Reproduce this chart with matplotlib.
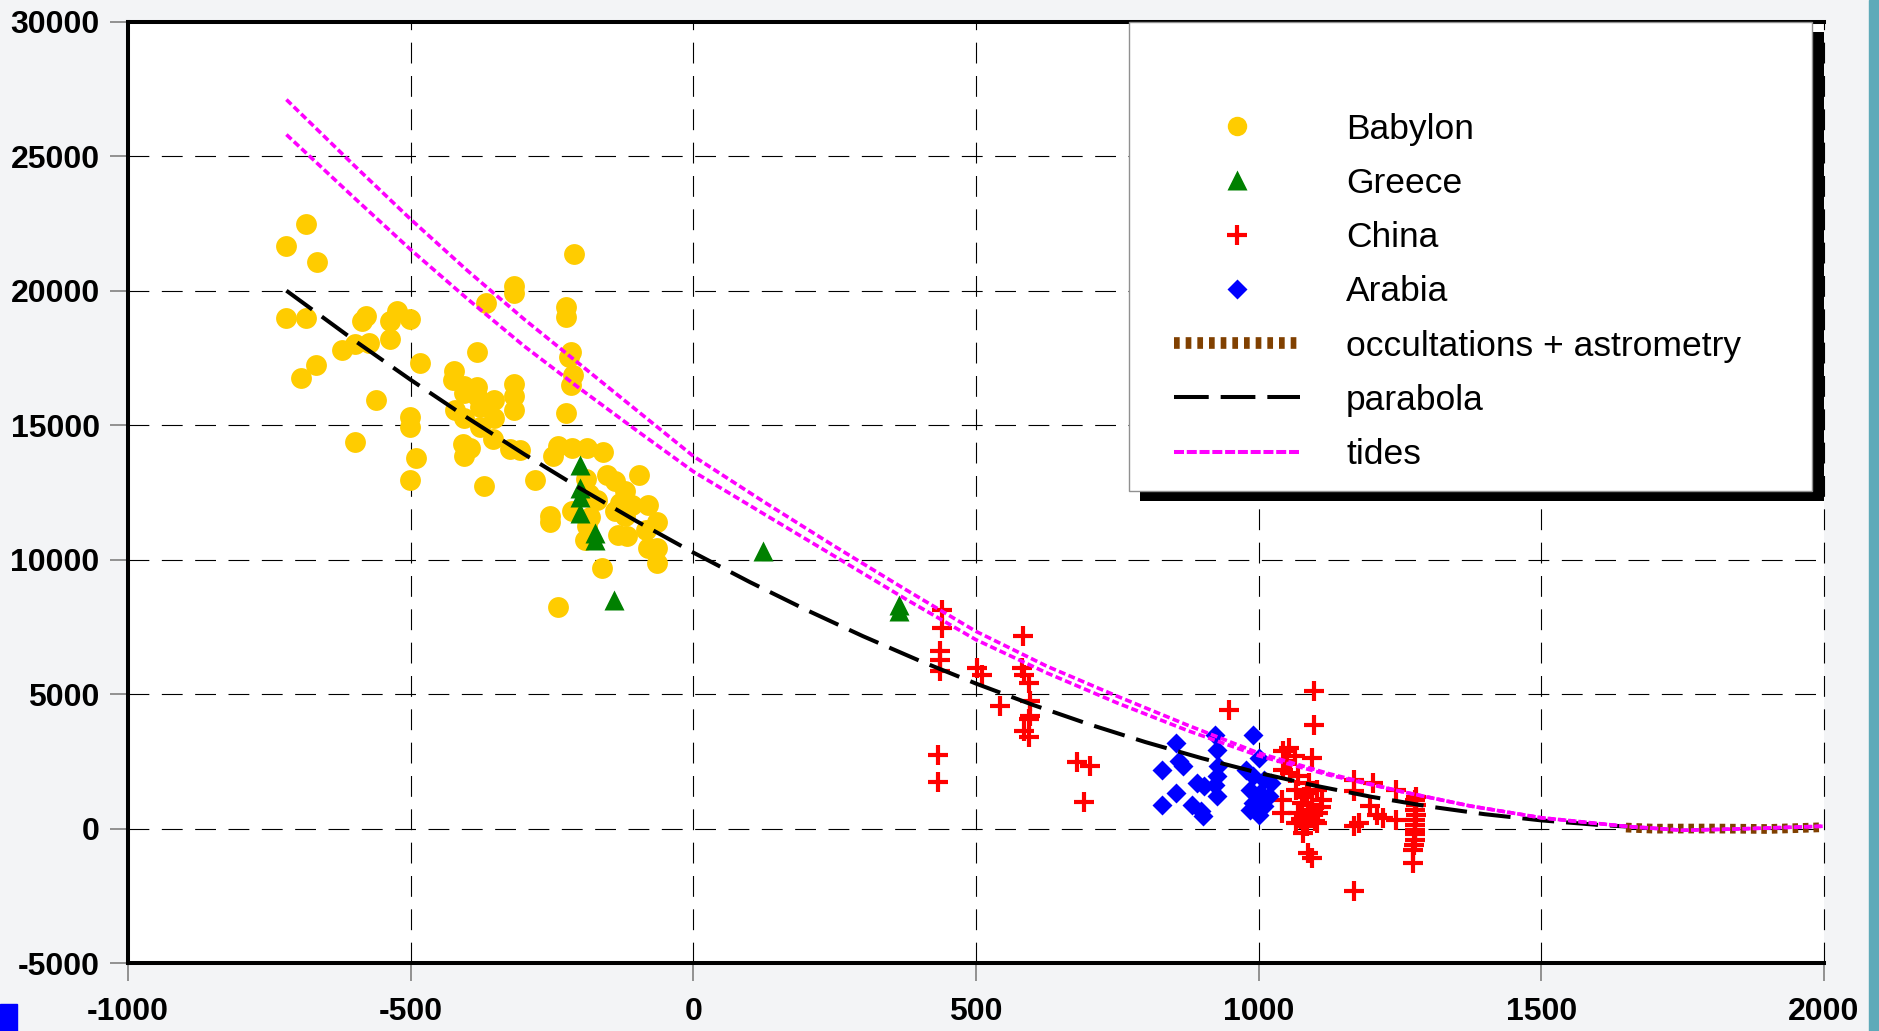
import numpy as np
import matplotlib.pyplot as plt
from matplotlib.lines import Line2D
from matplotlib.patches import Rectangle

plt.rcParams['font.family'] = ['Liberation Sans', 'DejaVu Sans']
plt.rcParams['lines.scale_dashes'] = False
plt.rcParams['axes.unicode_minus'] = False

### Data ###

babylon_x = [-721, -686, -666, -720, -685, -587, -579, -622, -599, -573, -524, -537, -502, -537,
             -668, -695, -562, -483, -502, -502, -599, -491, -502, -423, -425, -405, -382, -383,
             -378, -405, -352, -382, -421, -405, -378, -352, -407, -396, -405, -354, -325, -307,
             -371, -367, -317, -317, -317, -317, -317, -212, -226, -226, -216, -220, -213, -216,
             -226, -281, -248, -239, -215, -189, -159, -254, -254, -215, -189, -192, -171, -153,
             -139, -121, -130, -109, -139, -121, -97, -80, -83, -65, -80, -65, -65, -133, -118,
             -162, -239, -190, -185, -183]
babylon_y = [21650, 22480, 21050, 19000, 19000, 18860, 19060, 17800, 18000, 18070, 19260, 18860,
             18950, 18200, 17240, 16740, 15940, 17300, 15310, 14950, 14380, 13780, 12980, 17000,
             16670, 16470, 16410, 16080, 15680, 16210, 15940, 17730, 15550, 15280, 14950, 15280,
             14290, 14150, 13850, 14480, 14130, 14090, 12760, 19530, 20190, 19900, 16540, 16100,
             15550, 21360, 19390, 19020, 17730, 17540, 16870, 16500, 15450, 12950, 13840, 14210,
             14150, 14150, 14020, 11610, 11420, 11800, 11240, 10740, 12230, 13160, 12910, 12540,
             12100, 12040, 11800, 11610, 13160, 12040, 11110, 11420, 10430, 10430, 9880, 10930,
             10870, 9690, 8240, 13000, 12450, 11600]

greece_x = [-201, -201, -201, -201, -174, -174, -141, 124, 363, 363]
greece_y = [13530, 12660, 12350, 11730, 10990, 10740, 8510, 10310, 8330, 8080]

china_x = [440, 440, 437, 437, 437, 433, 433, 502, 510, 543, 584, 582, 585, 594, 595, 595, 594,
           585, 594, 679, 702, 691, 947,
           1098, 1098, 1044, 1053, 1064, 1050, 1094, 1044, 1056, 1070, 1067, 1085, 1103, 1076,
           1094, 1112, 1070, 1088, 1106, 1067, 1085, 1103, 1079, 1041, 1041, 1088, 1094, 1168,
           1168, 1203, 1244, 1168, 1177, 1197, 1209, 1221, 1244, 1168, 1277, 1276, 1276, 1277,
           1276, 1274, 1274, 1080, 1095, 1100, 1075, 1090, 1110, 1279, 1278, 1277, 1276, 1275,
           1278]
china_y = [8120, 7460, 6600, 6290, 5850, 2760, 1740, 5980, 5730, 4580, 7180, 5980, 5730, 5440,
           4740, 4180, 4080, 3620, 3410, 2480, 2320, 1000, 4430,
           5110, 3870, 2880, 3000, 2700, 2510, 2630, 2200, 2080, 1950, 1460, 1330, 1460, 960,
           900, 1090, 590, 470, 590, 220, 95, 220, -150, 1090, 590, -900, -1080, 1830,
           1400, 1700, 1460, 95, 220, 840, 530, 400, 340, -2320, 1090, 710, 340, -30,
           -400, -770, -1270, 1200, 700, 300, 350, 1700, 800, 900, 500, 150, -200, -600,
           1200]

arabia_x = [854, 860, 867, 829, 854, 829, 891, 904, 882, 898, 901, 923, 926, 929, 926, 923, 926,
            990, 1000, 978, 991, 1009, 1022, 985, 1003, 1019, 991, 1009, 985, 1000]
arabia_y = [3190, 2510, 2320, 2200, 1330, 900, 1700, 1580, 900, 650, 470, 3500, 2940, 2320, 1950,
            1640, 1210, 3500, 2630, 2200, 1950, 1830, 1700, 1460, 1330, 1210, 960, 840, 710, 530]

occult_x = [1650, 1700, 1750, 1800, 1850, 1900, 1950, 2000]
occult_y = [50, 9, 13, 14, 7, -3, 29, 64]

parabola_x = [-720, -600, -500, -400, -300, -200, -100, 0, 100, 200, 300, 400, 500, 600, 700,
              800, 900, 1000, 1100, 1200, 1300, 1400, 1500, 1600, 1650]
parabola_y = [20000, 18155, 16685, 15278, 13933, 12649, 11428, 10268, 9171, 8136, 7162, 6251,
              5401, 4614, 3889, 3225, 2624, 2084, 1607, 1192, 838, 547, 317, 150, 90]

tides_x = [-720, -600, -500, -400, -300, -200, -100, 0, 125, 250, 375, 500, 625, 750, 875, 1000,
           1125, 1250, 1375, 1500, 1650, 1750, 1850, 2000]
tides_hi = [27100, 24650, 22650, 20750, 18950, 17250, 15550, 13850, 12150, 10500, 8900, 7340,
            6050, 4930, 3850, 2820, 2050, 1400, 850, 415, 95, -50, 0, 100]
tides_lo = [25800, 23450, 21520, 19700, 17950, 16350, 14800, 13280, 11700, 10130, 8550, 7030,
            5800, 4680, 3650, 2720, 2000, 1400, 850, 415, 95, -50, 0, 100]

labels = ["Babylon", "Greece", "China", "Arabia", "occultations + astrometry", "parabola", "tides"]

### Plot ###

fig = plt.figure(figsize=(18.79, 10.31), dpi=100, facecolor='#f3f4f6')
fig.patches.append(Rectangle((0.9947, 0), 0.0053, 1, transform=fig.transFigure,
                             color='#5eaab9', zorder=0))
fig.patches.append(Rectangle((0, 0), 0.009, 0.026, transform=fig.transFigure,
                             color='#0000ff', zorder=0))

ax = fig.add_axes([0.0682, 0.0655, 0.9024, 0.9136])
ax.set_facecolor('white')

ax.plot(babylon_x, babylon_y, ls='none', marker='o', ms=15, color='#ffcc00', mec='none', zorder=2)
ax.plot(greece_x, greece_y, ls='none', marker='^', ms=14.5, color='#008000', mec='none', zorder=2.1)
ax.plot(china_x, china_y, ls='none', marker='+', ms=15, mew=3.0, color='#ff0000', zorder=2.2)
ax.plot(arabia_x, arabia_y, ls='none', marker='D', ms=10.5, color='#0000ff', mec='none', zorder=2.3)

ax.plot(occult_x, occult_y, color='#804000', lw=7, ls=(0, (4, 3.5)), zorder=3)
ax.plot(parabola_x, parabola_y, color='black', lw=2.9, ls=(0, (23, 8.6)), zorder=3.1)
ax.plot(tides_x, tides_hi, color='#ff00ff', lw=2.6, ls=(0, (5, 2.4)), zorder=3.2)
ax.plot(tides_x, tides_lo, color='#ff00ff', lw=2.6, ls=(0, (5, 2.4)), zorder=3.2)

ax.set_xlim(-1000, 2000)
ax.set_ylim(-5000, 30000)
ax.set_xticks(np.arange(-1000, 2001, 500))
ax.set_yticks(np.arange(-5000, 30001, 5000))
ax.grid(True, color='black', lw=0.8, ls=(0, (15, 9)))
ax.set_axisbelow(True)
for gl in ax.xaxis.get_gridlines():
    gl.set_clip_on(False)

for side in ['left', 'bottom', 'top']:
    ax.spines[side].set_linewidth(2.9)
    ax.spines[side].set_color('black')
ax.spines['right'].set_visible(False)

ax.tick_params(axis='both', direction='out', length=13, width=1.2, color='#808080',
               labelsize=23)
ax.tick_params(axis='x', pad=11)
ax.tick_params(axis='y', pad=7.5)
for lab in ax.get_xticklabels() + ax.get_yticklabels():
    lab.set_fontweight('bold')

# legend box with a hard black shadow
ax.add_patch(Rectangle((0.5965, 0.4914), 0.4035, 0.498, transform=ax.transAxes,
                       facecolor='black', edgecolor='none', zorder=5, clip_on=False))
ax.add_patch(Rectangle((0.590, 0.502), 0.403, 0.498, transform=ax.transAxes,
                       facecolor='white', edgecolor='#909090', lw=1.0, zorder=5.5, clip_on=False))

handles = [
    Line2D([], [], ls='none', marker='o', ms=14, color='#ffcc00', mec='none'),
    Line2D([], [], ls='none', marker='^', ms=14, color='#008000', mec='none'),
    Line2D([], [], ls='none', marker='+', ms=15, mew=3.0, color='#ff0000'),
    Line2D([], [], ls='none', marker='D', ms=9.8, color='#0000ff', mec='none'),
    Line2D([], [], color='#804000', lw=8.4, ls=(0, (4.1, 4.3))),
    Line2D([], [], color='black', lw=2.9, ls=(0, (25, 8.6))),
    Line2D([], [], color='#ff00ff', lw=2.9, ls=(0, (7.2, 2))),
]
leg = ax.legend(handles, labels, loc='upper left', bbox_to_anchor=(0.6168, 0.9034),
                frameon=False, fontsize=25.5, borderpad=0, borderaxespad=0,
                handlelength=3.56, handletextpad=1.3, labelspacing=0.6)
leg.set_zorder(6)

fig.savefig('out.png', dpi=100, facecolor=fig.get_facecolor())
